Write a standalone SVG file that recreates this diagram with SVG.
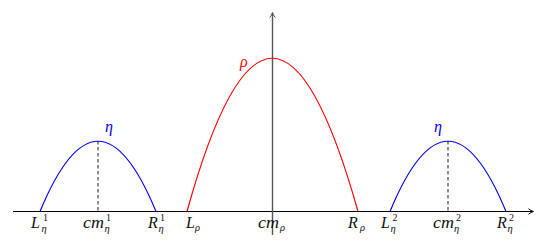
<svg xmlns="http://www.w3.org/2000/svg" width="543" height="249" viewBox="0 0 543 249">
<style>
text{font-family:"Liberation Serif","Times New Roman",serif}
.lbl{font-style:italic;font-size:16px;fill:#111}
.sup{font-style:normal;font-size:10px;fill:#111}
.sub{font-style:italic;font-size:10.5px;fill:#111}
.blue{stroke:#0000ff;fill:none;stroke-width:1.2}
.red{stroke:#ff0000;fill:none;stroke-width:1.2}
.dash{stroke:#333;stroke-width:1.1;stroke-dasharray:3.5,2.5}
.name{font-style:italic;font-size:16px}
</style>
<defs>
<marker id="arr" viewBox="0 0 8 8" refX="6" refY="4" markerWidth="8" markerHeight="8" markerUnits="userSpaceOnUse" orient="auto">
<path d="M1.5,1.2 Q4,3.5 6.5,4 Q4,4.5 1.5,6.8" fill="none" stroke="context-stroke" stroke-width="1"/>
</marker>
</defs>
<g id="connectors">
<line id="x-axis" x1="13" y1="211.5" x2="533" y2="211.5" stroke="#000" stroke-width="1.2" marker-end="url(#arr)"/>
<line id="y-axis" x1="272.5" y1="235" x2="272.5" y2="13" stroke="#555" stroke-width="1.4" marker-end="url(#arr)"/>
<line class="dash" x1="98" y1="141" x2="98" y2="211"/>
<line class="dash" x1="448" y1="141" x2="448" y2="211"/>
</g>
<g id="eta1">
<path class="blue" d="M40,211.5 Q98,71 156,211.5"/>
<text class="name" x="105" y="132" fill="#0000ff">η</text>
</g>
<g id="rho">
<path class="red" d="M187,211.5 Q272,-95 358,211.5"/>
<text class="name" x="240" y="67" fill="#ff0000">ρ</text>
</g>
<g id="eta2">
<path class="blue" d="M390,211.5 Q448,71 506,211.5"/>
<text class="name" x="434" y="132" fill="#0000ff">η</text>
</g>
<g id="labels">
<text class="lbl" x="31" y="228">L</text><text class="sup" x="43" y="221">1</text><text class="sub" x="41.5" y="232">η</text>
<text class="lbl" x="83" y="228" textLength="21" lengthAdjust="spacingAndGlyphs">cm</text><text class="sup" x="106" y="221">1</text><text class="sub" x="104.5" y="232">η</text>
<text class="lbl" x="148" y="228">R</text><text class="sup" x="160" y="221">1</text><text class="sub" x="158.5" y="232">η</text>
<text class="lbl" x="186" y="228">L</text><text class="sub" x="195" y="231">ρ</text>
<text class="lbl" x="258" y="228" textLength="21" lengthAdjust="spacingAndGlyphs">cm</text><text class="sub" x="280" y="231">ρ</text>
<text class="lbl" x="348" y="228">R</text><text class="sub" x="360" y="231">ρ</text>
<text class="lbl" x="381" y="228">L</text><text class="sup" x="392.5" y="221">2</text><text class="sub" x="390.5" y="232">η</text>
<text class="lbl" x="433" y="228" textLength="21" lengthAdjust="spacingAndGlyphs">cm</text><text class="sup" x="456" y="221">2</text><text class="sub" x="454" y="232">η</text>
<text class="lbl" x="497" y="228">R</text><text class="sup" x="509" y="221">2</text><text class="sub" x="507.5" y="232">η</text>
</g>
</svg>
